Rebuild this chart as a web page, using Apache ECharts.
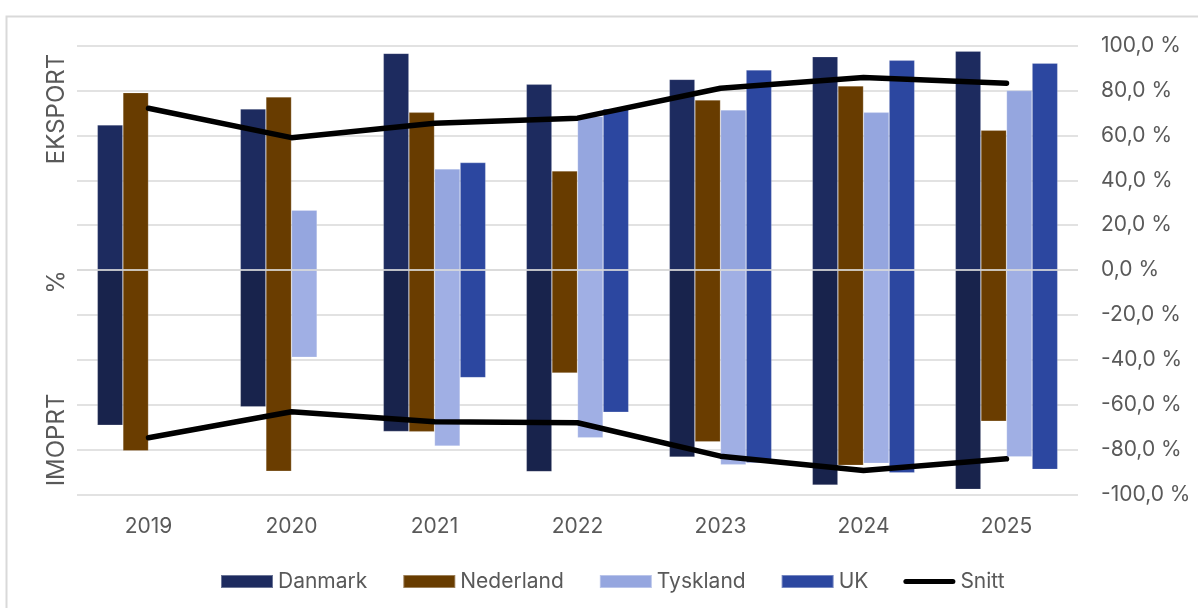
<!DOCTYPE html>
<html>
<head>
<meta charset="utf-8">
<title>Eksport / import</title>
<script src="https://cdn.jsdelivr.net/npm/echarts@6/dist/echarts.min.js"></script>
<style>
  html, body { margin: 0; padding: 0; background: #fff; }
  #chart { width: 1198px; height: 608px; }
</style>
</head>
<body>
<div id="chart"></div>
<script>
// ---------------------------------------------------------------------------
// data (andel i %, eksport positiv, import negativ)
// ---------------------------------------------------------------------------
const years = ["2019", "2020", "2021", "2022", "2023", "2024", "2025"];

const danmarkEksport = [64.7, 71.8, 96.6, 82.8, 85.0, 95.1, 97.6];
const danmarkImport = [-69.2, -61.0, -72.0, -89.9, -83.4, -95.9, -97.8];

const nederlandEksport = [79.1, 77.2, 70.3, 44.2, 75.8, 82.1, 62.3];
const nederlandImport = [-80.6, -89.7, -72.1, -45.9, -76.6, -87.1, -67.4];

const tysklandEksport = [null, 26.7, 45.1, 68.5, 71.4, 70.3, 80.0];
const tysklandImport = [null, -38.9, -78.5, -74.8, -86.8, -86.2, -83.3];

const ukEksport = [null, null, 47.9, 71.8, 89.2, 93.5, 92.2];
const ukImport = [null, null, -48.0, -63.4, -86.0, -90.4, -88.9];

const snittEksport = [72.1, 59.0, 65.4, 67.7, 81.0, 85.8, 83.3];
const snittImport = [-74.8, -63.2, -67.7, -68.1, -83.0, -89.4, -84.2];

const FONT = "Inter, 'Open Sans', sans-serif";
const GREY_TEXT = "#595959";
const GRID_LINE = "#d9d9d9";

// legend-ikon for Snitt: tykk strek med runde ender, boks 52x13
const SNITT_ICON =
  "path://M0,0L0,0M2.5,4L49.5,4A2.5,2.5,0,0,1,49.5,9L2.5,9A2.5,2.5,0,0,1,2.5,4ZM52,13L52,13";

// ---------------------------------------------------------------------------
// helpers
// ---------------------------------------------------------------------------
function barPair(name, stack, eksport, imp, colorUp, colorDown) {
  const base = {
    type: "bar",
    name: name,
    stack: stack,
    barGap: "0%",
    barCategoryGap: "28.4%",
    emphasis: { disabled: true },
  };
  return [
    Object.assign({}, base, {
      data: eksport,
      itemStyle: { color: colorUp, borderColor: "rgba(255,255,255,0.35)", borderWidth: 0.6 },
    }),
    Object.assign({}, base, {
      data: imp,
      itemStyle: { color: colorDown, borderColor: "rgba(255,255,255,0.35)", borderWidth: 0.6 },
    }),
  ];
}

function snittLine(data, withZeroLine) {
  const s = {
    type: "line",
    name: "Snitt",
    data: data,
    symbol: "none",
    z: 5,
    lineStyle: { color: "#000", width: 5.5, cap: "round", join: "round" },
    itemStyle: { color: "#000" },
    emphasis: { disabled: true },
  };
  if (withZeroLine) {
    // nullinjen ligger over søylene, som i Excel
    s.markLine = {
      silent: true,
      symbol: "none",
      label: { show: false },
      lineStyle: { color: GRID_LINE, width: 1.6, type: "solid" },
      data: [{ yAxis: 0 }],
    };
  }
  return s;
}

const fmtPct = (v) => v.toFixed(1).replace(".", ",") + " %";

// ---------------------------------------------------------------------------
// chart
// ---------------------------------------------------------------------------
const chart = echarts.init(document.getElementById("chart"), null, { renderer: "canvas" });

chart.setOption({
  animation: false,
  backgroundColor: "#fff",
  textStyle: { fontFamily: FONT },
  grid: { left: 77, right: 120, top: 45.7, bottom: 113.7, containLabel: false },
  legend: {
    left: 215,
    top: 566,
    itemWidth: 52,
    itemHeight: 13,
    itemGap: 35,
    textStyle: { fontFamily: FONT, fontSize: 21, color: GREY_TEXT },
    data: [
      { name: "Danmark", icon: "rect" },
      { name: "Nederland", icon: "rect" },
      { name: "Tyskland", icon: "rect" },
      { name: "UK", icon: "rect" },
      { name: "Snitt", icon: SNITT_ICON },
    ],
    selectedMode: false,
  },
  xAxis: {
    type: "category",
    data: years,
    axisLine: { show: false },
    axisTick: { show: false },
    axisLabel: { fontFamily: FONT, fontSize: 21, color: GREY_TEXT, margin: 22 },
  },
  yAxis: {
    type: "value",
    position: "right",
    min: -100,
    max: 100,
    interval: 20,
    axisLine: { show: false },
    axisTick: { show: false },
    axisLabel: {
      fontFamily: FONT,
      fontSize: 21,
      color: GREY_TEXT,
      margin: 23,
      formatter: fmtPct,
    },
    splitLine: { lineStyle: { color: GRID_LINE, width: 1.6 } },
  },
  graphic: [
    // ytre ramme (kuttet i høyre og nedre kant)
    {
      type: "rect",
      silent: true,
      shape: { x: 6.5, y: 16.5, width: 1400, height: 800 },
      style: { fill: null, stroke: GRID_LINE, lineWidth: 2 },
      z: -1,
    },
    {
      type: "text",
      x: 57,
      y: 109,
      rotation: Math.PI / 2,
      style: {
        text: "EKSPORT",
        fontFamily: FONT,
        fontSize: 24,
        fill: GREY_TEXT,
        align: "center",
        verticalAlign: "middle",
      },
    },
    {
      type: "text",
      x: 57,
      y: 282,
      rotation: Math.PI / 2,
      style: {
        text: "%",
        fontFamily: FONT,
        fontSize: 24,
        fill: GREY_TEXT,
        align: "center",
        verticalAlign: "middle",
      },
    },
    {
      type: "text",
      x: 57,
      y: 440,
      rotation: Math.PI / 2,
      style: {
        text: "IMOPRT",
        fontFamily: FONT,
        fontSize: 24,
        fill: GREY_TEXT,
        align: "center",
        verticalAlign: "middle",
      },
    },
  ],
  series: [
    ...barPair("Danmark", "dk", danmarkEksport, danmarkImport, "#1d2b5f", "#18234c"),
    ...barPair("Nederland", "nl", nederlandEksport, nederlandImport, "#683c00", "#6a3d00"),
    ...barPair("Tyskland", "de", tysklandEksport, tysklandImport, "#95a6df", "#a0afe4"),
    ...barPair("UK", "uk", ukEksport, ukImport, "#2c47a0", "#2c47a0"),
    snittLine(snittEksport, true),
    snittLine(snittImport, false),
  ],
});
</script>
</body>
</html>
